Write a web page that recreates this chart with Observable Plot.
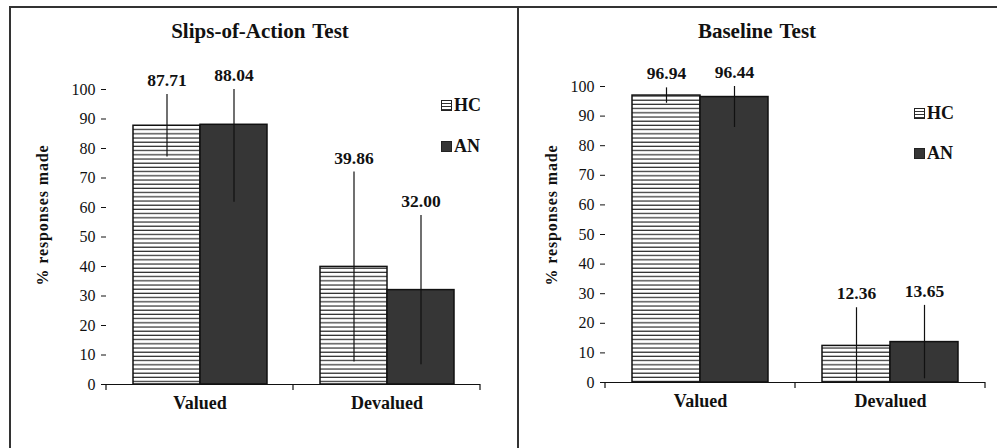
<!DOCTYPE html>
<html>
<head>
<meta charset="utf-8">
<script src="https://cdn.jsdelivr.net/npm/d3@7"></script>
<script src="https://cdn.jsdelivr.net/npm/@observablehq/plot@0.6"></script>
<style>
  html, body { margin: 0; padding: 0; background: #fff; }
  #root { position: relative; width: 997px; height: 448px; overflow: hidden; background: #fff;
          font-family: "Liberation Serif", "Times New Roman", serif; color: #111; }
  .abs { position: absolute; }
  .title { font-size: 21px; font-weight: bold; text-align: center; line-height: 24px; word-spacing: 2px; }
  .ylab { font-size: 16px; font-weight: bold; white-space: nowrap; letter-spacing: 0.9px;
          transform: translate(-50%, -50%) rotate(-90deg); transform-origin: center; }
  .leg { display: flex; align-items: center; height: 22px; font-size: 18px; font-weight: bold; }
  .sw { width: 9px; height: 9px; border: 1px solid #222; margin-right: 2px; box-sizing: content-box; }
  .sw.hc { background: repeating-linear-gradient(to bottom, #fff 0px, #fff 1.6px, #333 1.6px, #333 3px); }
  .sw.an { background: #363636; }
  .border { position: absolute; background: #333; pointer-events: none; }
</style>
</head>
<body>
<div id="root">
  <div id="left" class="abs" style="left:0;top:0"></div>
  <div id="right" class="abs" style="left:518px;top:0"></div>
</div>
<script>
// ---- data ----
const categories = ["Valued", "Devalued"];
const groups = ["HC", "AN"];
const panelTitles = ["Slips-of-Action Test", "Baseline Test"];
const yLabel = "% responses made";
const yTicks = [0, 10, 20, 30, 40, 50, 60, 70, 80, 90, 100];

const slipsHC = [87.71, 39.86];
const slipsAN = [88.04, 32.00];
const slipsHCerr = [10.6, 32.2];
const slipsANerr = [26.3, 25.3];

const baseHC = [96.94, 12.36];
const baseAN = [96.44, 13.65];
const baseHCerr = [2.6, 12.9];
const baseANerr = [10.3, 12.4];

const FONT = "'Liberation Serif', 'Times New Roman', serif";

function makePanel({hc, an, hcErr, anErr, width, margins, pid}) {
  const data = categories.flatMap((c, i) => [
    {cat: c, group: groups[0], v: hc[i], e: hcErr[i]},
    {cat: c, group: groups[1], v: an[i], e: anErr[i]}
  ]);
  const plot = Plot.plot({
    width, height: 448, ...margins,
    style: {background: "transparent", fontFamily: FONT, fontSize: "16px", color: "#111", overflow: "visible"},
    fx: {domain: categories, padding: 0, label: null},
    x: {domain: groups, paddingInner: 0, paddingOuter: 0.38, axis: null},
    y: {domain: [0, 100]},
    color: {domain: groups, range: [`url(#${pid})`, "#363636"]},
    marks: [
      Plot.barY(data, {fx: "cat", x: "group", y: "v", fill: "group", stroke: "#111", strokeWidth: 1.5}),
      Plot.ruleX(data, {fx: "cat", x: "group", y1: d => d.v - d.e, y2: d => d.v + d.e,
                        stroke: "#111", strokeWidth: 1.2, clip: true}),
      Plot.text(data, {fx: "cat", x: "group", y: d => Math.min(d.v + d.e, 100),
                       text: d => d.v.toFixed(2), dy: -14, fontSize: 17.5, fontWeight: "bold", fontFamily: FONT}),
      Plot.ruleY([0], {stroke: "#111", strokeWidth: 1.2}),
      Plot.axisY({anchor: "left", ticks: yTicks, tickSize: 5, tickPadding: 6, line: true, label: null,
                  fontSize: 16, fontFamily: FONT}),
      Plot.axisFx({anchor: "bottom", tickSize: 0, tickPadding: 12, label: null,
                   fontSize: 18, fontWeight: "bold", fontFamily: FONT})
    ]
  });
  const svg = d3.select(plot.tagName.toLowerCase() === "svg" ? plot : plot.querySelector("svg"));
  svg.insert("defs", ":first-child").html(
    `<pattern id="${pid}" patternUnits="userSpaceOnUse" width="4" height="4.2">
       <rect width="4" height="4.2" fill="#fff"/>
       <rect y="3" width="4" height="1.3" fill="#2a2a2a"/>
     </pattern>`);
  // boundary ticks on the category axis
  const fx = plot.scale("fx"), y = plot.scale("y");
  const y0 = y.apply(0);
  const edges = [];
  categories.forEach((c, i) => {
    const s = fx.apply(c);
    if (i === 0) edges.push(s);
    edges.push(s + fx.bandwidth);
  });
  svg.append("g").selectAll("line").data(edges).join("line")
    .attr("x1", d => d).attr("x2", d => d).attr("y1", y0).attr("y2", y0 + 6)
    .attr("stroke", "#111").attr("stroke-width", 1.2);
  return plot;
}

document.getElementById("left").appendChild(makePanel({
  hc: slipsHC, an: slipsAN, hcErr: slipsHCerr, anErr: slipsANerr,
  width: 518, margins: {marginTop: 89, marginBottom: 64, marginLeft: 106, marginRight: 38}, pid: "stripesL"
}));
document.getElementById("right").appendChild(makePanel({
  hc: baseHC, an: baseAN, hcErr: baseHCerr, anErr: baseANerr,
  width: 479, margins: {marginTop: 86, marginBottom: 66, marginLeft: 86, marginRight: 12}, pid: "stripesR"
}));

// ---- overlays: titles, y labels, legends, borders ----
const root = document.getElementById("root");
function add(html) { root.insertAdjacentHTML("beforeend", html); }

add(`<div class="abs title" style="left:0;top:19px;width:520px">${panelTitles[0]}</div>`);
add(`<div class="abs title" style="left:518px;top:19px;width:478px">${panelTitles[1]}</div>`);
add(`<div class="abs ylab" style="left:43px;top:215px">${yLabel}</div>`);
add(`<div class="abs ylab" style="left:552px;top:215px">${yLabel}</div>`);

const legendPos = [{x: 441, y: [105, 146]}, {x: 914, y: [113, 153]}];
legendPos.forEach(p => {
  groups.forEach((g, i) => {
    add(`<div class="abs leg" style="left:${p.x}px;top:${p.y[i] - 11}px"><span class="sw ${g.toLowerCase()}"></span>${g}</div>`);
  });
});

add(`<div class="border" style="left:9px;top:6px;width:2px;height:450px"></div>`);
add(`<div class="border" style="left:9px;top:6px;width:990px;height:2px"></div>`);
add(`<div class="border" style="left:517px;top:6px;width:2px;height:450px"></div>`);
</script>
</body>
</html>
